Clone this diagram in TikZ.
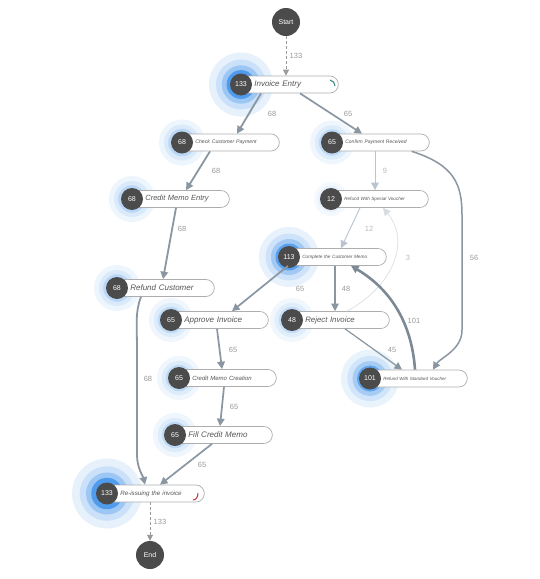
\documentclass[tikz,border=0pt]{standalone}
\usepackage{fontspec}
\setmainfont{Liberation Sans}
\usetikzlibrary{arrows.meta,calc}
\definecolor{nodedk}{HTML}{4B4B4B}
\definecolor{edgec}{HTML}{8A96A2}
\definecolor{edgedk}{HTML}{7D8995}
\definecolor{edgelt}{HTML}{B9C4CF}
\definecolor{edgevl}{HTML}{D6DCE2}
\definecolor{lblc}{HTML}{9A9A9A}
\definecolor{lbllt}{HTML}{BBBBBB}
\definecolor{pillb}{HTML}{ADADAD}
\definecolor{txtc}{HTML}{555555}
\definecolor{hA}{HTML}{E6F1FC}
\definecolor{hB}{HTML}{CBE1F9}
\definecolor{hC}{HTML}{9CC6F3}
\definecolor{hD}{HTML}{4F9BEC}
\definecolor{progteal}{HTML}{2E7F7A}
\definecolor{progred}{HTML}{C8323C}
\tikzset{
 pill/.style={draw=pillb, line width=0.7pt, fill=white, rounded corners=8.5pt,
   minimum height=17pt, text width=100pt, inner xsep=0pt, inner ysep=0pt,
   align=left, anchor=west, text=txtc},
 cnt/.style={circle, fill=nodedk, minimum size=22pt, inner sep=0pt, text=white,
   font=\fontsize{7}{7}\selectfont},
 term/.style={circle, fill=nodedk, minimum size=28pt, inner sep=0pt, text=white,
   font=\fontsize{7}{7}\selectfont},
 arr/.style={-{Triangle[length=7.5pt,width=7.5pt]}},
 ebase/.style={arr, draw=edgec},
 lbl/.style={font=\fontsize{7.5}{7.5}\selectfont, text=lblc, inner sep=0pt},
 lbll/.style={font=\fontsize{7.5}{7.5}\selectfont, text=lbllt, inner sep=0pt},
 dashedge/.style={draw=lblc, line width=0.8pt, dash pattern=on 3pt off 2pt,
   -{Triangle[length=6pt,width=6pt]}},
}
\newcommand\halo[4]{%
 \fill[hA!#4!white] (#1,#2) circle[radius=#3pt];
 \fill[hB!#4!white] (#1,#2) circle[radius=0.78*#3pt];
 \fill[hC!#4!white] (#1,#2) circle[radius=0.6*#3pt];
 \fill[hD!#4!white] (#1,#2) circle[radius=0.45*#3pt];
}
\newcommand\pmnode[6]{%
 \node[pill, font=\fontsize{#6}{#6}\selectfont\itshape] (#1) at (#2-3,#3) {\hspace*{16pt}#5};
 \node[cnt] (#1c) at (#2,#3) {#4};
}
\begin{document}
\begin{tikzpicture}[x=1pt,y=-1pt]
\path[use as bounding box, fill=white] (0,0) rectangle (539,579);
% halos
\halo{241}{84.5}{32}{100}
\halo{182}{142.5}{23}{70}
\halo{332}{142.5}{22}{65}
\halo{132}{199}{23}{70}
\halo{331}{199}{17}{45}
\halo{289}{257}{30}{95}
\halo{117}{288}{23}{70}
\halo{171}{320}{22}{65}
\halo{292}{320}{22}{60}
\halo{370}{378.5}{29}{90}
\halo{179}{378}{22}{65}
\halo{175}{435}{22}{65}
\halo{107}{493.5}{35}{100}
% nodes
\pmnode{ie}{241}{84.5}{133}{Invoice Entry}{8}
\pmnode{ccp}{182}{142.5}{68}{Check Customer Payment}{5.2}
\pmnode{cpr}{332}{142.5}{65}{Confirm Payment Received}{5}
\pmnode{cme}{132}{199}{68}{Credit Memo Entry}{7.5}
\pmnode{rsv}{331}{199}{12}{Refund With Special Voucher}{4.6}
\pmnode{ccm}{289}{257}{113}{Complete the Customer Memo}{4.7}
\pmnode{rc}{117}{288}{68}{Refund Customer}{8}
\pmnode{ai}{171}{320}{65}{Approve Invoice}{8}
\pmnode{rinv}{292}{320}{48}{Reject Invoice}{7.8}
\pmnode{rstd}{370}{378.5}{101}{Refund With Standard Voucher}{4.5}
\pmnode{cmc}{179}{378}{65}{Credit Memo Creation}{6}
\pmnode{fcm}{175}{435}{65}{Fill Credit Memo}{8}
\pmnode{rei}{107}{493.5}{133}{Re-issuing the invoice}{6.2}
\node[term] (start) at (286,22) {Start};
\node[term] (end) at (150,555) {End};
% progress arcs
\draw[progteal, line width=1pt] (330,80) .. controls (333,80.5) and (335,83) .. (335,86);
\draw[progred, line width=1pt] (198,493) .. controls (198,497) and (196,500) .. (193,500);
% edges
\draw[dashedge] (start.south) -- (start.south |- ie.north);
\draw[ebase, line width=1.8pt] ($(ie.south west)+(23,0)$) -- ($(ccp.north west)+(58,0)$);
\draw[ebase, line width=1.7pt] ($(ie.south west)+(62,0)$) -- ($(cpr.north west)+(33,0)$);
\draw[ebase, line width=1.8pt] ($(ccp.south west)+(31,0)$) -- ($(cme.north west)+(57,0)$);
\draw[ebase, line width=1.8pt] ($(cme.south west)+(47,0)$) -- ($(rc.north west)+(49,0)$);
\draw[arr, draw=edgelt, line width=0.9pt] ($(cpr.south west)+(46,0)$) -- ($(rsv.north west)+(47,0)$);
\draw[ebase, line width=1.5pt] ($(cpr.south east)+(-18,0)$) .. controls (455,165) and (462,185) .. (462,215) -- (462,330) .. controls (462,350) and (440,358) .. ($(rstd.north west)+(66,0)$);
\draw[arr, draw=edgelt, line width=0.9pt] ($(rsv.south west)+(32,0)$) -- ($(ccm.north west)+(55,0)$);
\draw[arr, draw=edgevl, line width=0.6pt] ($(rinv.north west)+(58,0)$) .. controls (395,285) and (410,240) .. ($(rsv.south west)+(55,0)$);
\draw[ebase, line width=1.7pt] ($(ccm.south west)+(2,0)$) -- ($(ai.north west)+(64,0)$);
\draw[ebase, line width=1.3pt] ($(ccm.south west)+(49,0)$) -- ($(rinv.north west)+(46,0)$);
\draw[ebase, line width=1.2pt] ($(rinv.south west)+(56,0)$) -- ($(rstd.north west)+(35,0)$);
\draw[arr, draw=edgedk, line width=2.6pt] ($(rstd.north west)+(48,0)$) .. controls (412,325) and (392,290) .. ($(ccm.south west)+(65,0)$);
\draw[ebase, line width=1.8pt] ($(rc.south west)+(27,0)$) .. controls (135,312) and (137,325) .. (137,350) -- (137,455) .. controls (137,468) and (143,476) .. ($(rei.north west)+(41,0)$);
\draw[ebase, line width=1.7pt] ($(ai.south west)+(49,0)$) -- ($(cmc.north west)+(46,0)$);
\draw[ebase, line width=1.7pt] ($(cmc.south west)+(48,0)$) -- ($(fcm.north west)+(48,0)$);
\draw[ebase, line width=1.7pt] ($(fcm.south west)+(40,0)$) -- ($(rei.north west)+(56,0)$);
\draw[dashedge] (end.north |- rei.south) -- (end.north);
% labels
\node[lbl] (l1) at (296,56) {133};
\node[lbl] (l2) at (272,114) {68};
\node[lbl] (l3) at (348,114) {65};
\node[lbl] (l4) at (216,171) {68};
\node[lbl] (l5) at (182,229) {68};
\node[lbll] (l6) at (385,171) {9};
\node[lbl] (l7) at (474,258) {56};
\node[lbll] (l8) at (369,229) {12};
\node[lbll] (l9) at (408,258) {3};
\node[lbl] (l10) at (300,289) {65};
\node[lbl] (l11) at (346,289) {48};
\node[lbl] (l12) at (392,350) {45};
\node[lbl] (l13) at (414,321) {101};
\node[lbl] (l14) at (148,379) {68};
\node[lbl] (l15) at (233,350) {65};
\node[lbl] (l16) at (234,407) {65};
\node[lbl] (l17) at (202,465) {65};
\node[lbl] (l18) at (160,522) {133};
\end{tikzpicture}
\end{document}
